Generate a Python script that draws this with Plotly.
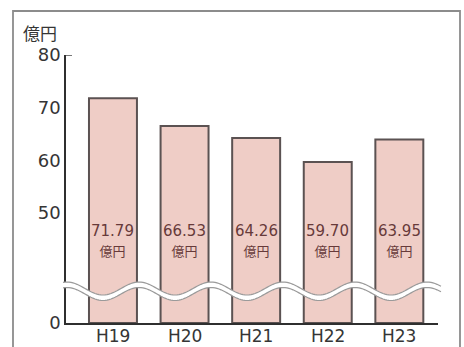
import math
import plotly.graph_objects as go

# Annual amounts (unit: 100 million yen)
years = ["H19", "H20", "H21", "H22", "H23"]
amounts = [71.79, 66.53, 64.26, 59.70, 63.95]
upper_ticks = [50, 60, 70, 80]
unit_label = "億円"

BAR_FILL = "#efcdc6"
BAR_EDGE = "#5b5252"
AXIS_COLOR = "#2f2f2f"
TEXT_COLOR = "#353535"
LABEL_COLOR = "#673a3a"
FONT = "DejaVu Sans, Liberation Sans, Arial, sans-serif"
CJK = "Noto Sans CJK JP, sans-serif"

W, H = 464, 347
L, R, T, B = 66, 26, 55, 24
plot_w = W - L - R
plot_h = H - T - B

# broken y axis: a short lower strip holding 0, and the main 50-80 scale above
split_px = 288               # pixel row of the break
lower_frac = (H - B - split_px) / plot_h
px_per_unit = (213 - 55) / 30.0
upper_min = 50 - (split_px - 213) / px_per_unit

fig = go.Figure()
for yax in ("y", "y2"):
    fig.add_trace(go.Bar(
        x=years, y=amounts, width=0.67,
        marker=dict(color=BAR_FILL, line=dict(color=BAR_EDGE, width=2)),
        xaxis="x" if yax == "y" else "x2", yaxis=yax,
        hoverinfo="x+y", showlegend=False,
    ))


def px_to_paper(px, py):
    return (px - L) / plot_w, (H - B - py) / plot_h


# value labels inside the bars
label_y = 50 - (241 - 213) / px_per_unit
annotations = []
for yr, v in zip(years, amounts):
    annotations.append(dict(
        x=yr, y=label_y, xref="x2", yref="y2", showarrow=False,
        text=f"<span style='font-family:{FONT}'>{v:.2f}</span><br>"
             f"<span style='font-size:13px'>億円</span>",
        font=dict(family=CJK, size=15, color=LABEL_COLOR),
        align="center",
    ))

# category labels under the baseline
_, cat_y = px_to_paper(0, 336)
for yr in years:
    annotations.append(dict(
        x=yr, y=cat_y, xref="x", yref="paper", showarrow=False,
        text=yr, font=dict(family=FONT, size=17, color=TEXT_COLOR),
        xanchor="center", yanchor="middle",
    ))

# unit label above the axis
ux, uy = px_to_paper(40, 32)
annotations.append(dict(
    x=ux, y=uy, xref="paper", yref="paper", showarrow=False,
    text=unit_label, font=dict(family=CJK, size=17, color=TEXT_COLOR),
    xanchor="center", yanchor="middle",
))

# wavy break band across the bars
def wave(py_mid, offset):
    pts = []
    px = 63.0
    while px <= 441.0:
        py = py_mid - 6.5 * math.cos(2 * math.pi * (px - 67) / 72) + offset
        pts.append(px_to_paper(px, py))
        px += 2.0
    return pts

top = wave(288.5, 0)
bot = wave(288.5, 5.5)
band = "M " + " L ".join(f"{x:.5f},{y:.5f}" for x, y in top)
band += " L " + " L ".join(f"{x:.5f},{y:.5f}" for x, y in reversed(bot)) + " Z"
line_top = "M " + " L ".join(f"{x:.5f},{y:.5f}" for x, y in top)
line_bot = "M " + " L ".join(f"{x:.5f},{y:.5f}" for x, y in bot)

shapes = [
    dict(type="path", path=band, xref="paper", yref="paper",
         fillcolor="white", line=dict(width=0), layer="above"),
    dict(type="path", path=line_top, xref="paper", yref="paper",
         line=dict(color="#9a9a9a", width=1.2), layer="above"),
    dict(type="path", path=line_bot, xref="paper", yref="paper",
         line=dict(color="#9a9a9a", width=1.2), layer="above"),
]

# short tick at the top of the axis
tx0, _ = px_to_paper(66, 0)
tx1, _ = px_to_paper(72, 0)
shapes.append(dict(type="line", xref="paper", yref="y2", x0=tx0, x1=tx1,
                   y0=80, y1=80, line=dict(color=AXIS_COLOR, width=1.3)))

# outer frame, open at the bottom edge of the page
fx0, fy0 = px_to_paper(13, 352)
fx1, fy1 = px_to_paper(460, 11)
frame = (f"M {fx0:.5f},{fy0:.5f} L {fx0:.5f},{fy1:.5f} "
         f"L {fx1:.5f},{fy1:.5f} L {fx1:.5f},{fy0:.5f}")
shapes.append(dict(type="path", path=frame, xref="paper", yref="paper",
                   line=dict(color="#8c8c8c", width=1.8), layer="below"))

x_range = [-0.656, 4.54]
fig.update_layout(
    width=W, height=H,
    margin=dict(l=L, r=R, t=T, b=B, autoexpand=False),
    paper_bgcolor="white", plot_bgcolor="white",
    barmode="overlay", bargap=0.33,
    xaxis=dict(domain=[0, 1], anchor="y", range=x_range, automargin=False,
               showline=True, linecolor=AXIS_COLOR, linewidth=1.5,
               ticks="", showticklabels=False, showgrid=False,
               zeroline=False),
    xaxis2=dict(domain=[0, 1], anchor="y2", range=x_range, matches="x",
                visible=False),
    yaxis=dict(domain=[0, lower_frac], range=[0, 10], tickvals=[0],
               automargin=False,
               showline=True, linecolor=AXIS_COLOR, linewidth=1.5,
               ticks="", showgrid=False, zeroline=False,
               tickfont=dict(family=FONT, size=18, color=TEXT_COLOR)),
    yaxis2=dict(domain=[lower_frac, 1], range=[upper_min, 80],
                tickvals=upper_ticks, anchor="x2", automargin=False,
                showline=True, linecolor=AXIS_COLOR, linewidth=1.5,
                ticks="", showgrid=False, zeroline=False,
                tickfont=dict(family=FONT, size=18, color=TEXT_COLOR)),
    annotations=annotations,
    shapes=shapes,
)

fig.write_html("out.html")
